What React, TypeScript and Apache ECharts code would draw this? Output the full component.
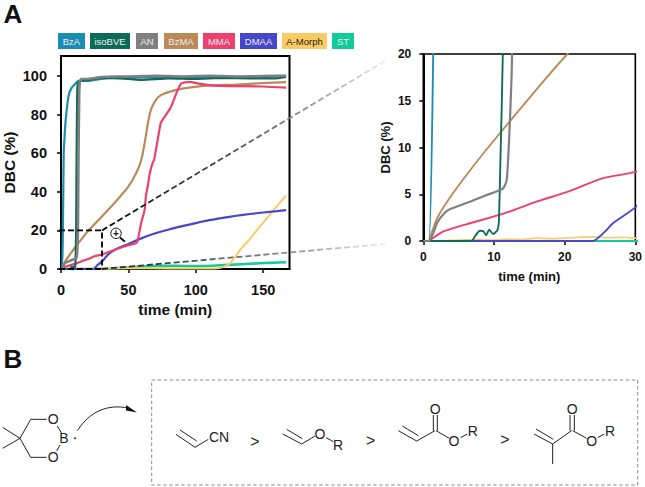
import React, { useEffect, useRef } from "react";
import * as echarts from "echarts";

const names = ["BzA", "isoBVE", "AN", "BzMA", "MMA", "DMAA", "A-Morph", "ST"];
const colors = ["#1a8db3", "#0e6b57", "#808080", "#bb8a56", "#ee3f6e", "#4647c9", "#fbcb63", "#10cc9b"];
const widths = [2.2, 2.2, 2.6, 2.2, 2.2, 2.2, 2, 2.6];
const xTicksMain = [0, 50, 100, 150];
const yTicksMain = [0, 20, 40, 60, 80, 100];
const xTicksZoom = [0, 10, 20, 30];
const yTicksZoom = [0, 5, 10, 15, 20];

const bzA = [[0, 0], [0.8, 0], [1.4, 20], [2, 60], [2.6, 68], [3.2, 75], [4, 81], [5, 87], [6, 91], [8, 94], [10, 95.5], [13, 97.5], [20, 97.5], [30, 98.5], [40, 99], [60, 99.3], [80, 99.3], [100, 99.2], [120, 99.6], [140, 99.5], [167, 99.8]];
const isoBVE = [[0, 0], [6.8, 0], [7.4, 0.6], [8, 1.1], [8.5, 1.05], [8.9, 0.6], [9.3, 1.2], [9.9, 0.75], [10.5, 1.2], [10.7, 2.2], [10.9, 8.3], [11.25, 20], [11.5, 50], [12, 90], [12.5, 96], [14, 97.5], [20, 98], [30, 99], [50, 98.5], [60, 98], [80, 98.8], [100, 98.5], [120, 99], [140, 98.8], [160, 98.8], [167, 99.5]];
const an = [[0, 0], [0.8, 0], [2, 2], [3, 3], [3.75, 3.4], [6.6, 4.2], [8.9, 4.9], [11.25, 5.6], [11.8, 6.5], [12.2, 11.9], [12.56, 20], [13, 60], [13.5, 90], [14, 97], [15, 98.5], [20, 98.5], [30, 99.5], [40, 99.8], [50, 99.8], [70, 100.2], [90, 99.8], [110, 100.2], [130, 99.8], [150, 100], [167, 100.2]];
const bzMA = [[0.8, 0], [2, 2.5], [4.2, 5.1], [8, 8.9], [11.25, 11.9], [16, 16.2], [20.4, 20], [30, 27], [40, 34.5], [49.8, 42.6], [56, 50], [59.5, 56.5], [62, 65], [64.5, 75.6], [66.5, 82], [69, 86], [72, 89], [76.7, 91], [86.5, 93], [95, 94], [108, 95], [130, 95.6], [150, 96.4], [167, 96.9]];
const mma = [[0.8, 0], [2.8, 1], [6.6, 1.9], [11.25, 2.9], [16, 4.2], [20.6, 5.3], [25.3, 6.7], [30, 7.4], [40, 10], [50, 12.3], [55.9, 13.5], [57, 15], [59.5, 24], [62, 30.5], [63, 38], [64.5, 43.5], [66, 50], [68, 55], [69, 56.5], [71, 64], [74, 75.6], [77, 79], [81.6, 84], [85, 90], [89, 96], [95, 97], [103, 96], [113, 95], [130, 94.8], [150, 94.6], [167, 94]];
const dmaa = [[1, 0], [23.9, 0], [27, 2], [30, 3.6], [35, 7.5], [40, 10], [50, 13], [60, 16], [70, 18.5], [80, 20.5], [90, 22.2], [100, 23.8], [110, 25.3], [120, 26.5], [130, 27.6], [140, 28.5], [150, 29.3], [160, 30], [167, 30.5]];
const aMorph = [[1, 0], [5, 0.1], [8, 0.15], [10, 0.1], [12, 0.2], [14, 0.15], [16, 0.3], [18, 0.25], [20, 0.3], [22, 0.4], [24, 0.45], [26, 0.35], [28, 0.4], [30, 0.3], [50, 0.4], [80, 0.3], [110, 0.3], [116, 0.4], [120, 1], [125.7, 3], [133, 10], [140, 15.5], [150, 24], [160, 32.5], [167, 38]];
const st = [[1, 0], [30, 0], [40, 0.4], [50, 0.8], [70, 1.6], [85, 1.6], [100, 1.5], [120, 2], [140, 2.7], [155, 3.2], [167, 3.5]];
const seriesData = [bzA, isoBVE, an, bzMA, mma, dmaa, aMorph, st];
const drawOrder = [7, 6, 5, 3, 4, 0, 1, 2];

const legendBoxes = [[58, 85], [90, 130], [136, 158], [164, 198], [203, 235], [240, 277], [282, 327], [332, 354]];

// zoom-crop coordinates of the two schemes (3x), converted below
const schemeLeft = [
  [[8, 262], [60, 295], [8, 325]],
  [[60, 295], [92, 238], [140, 238]],
  [[172, 258], [185, 280]],
  [[180, 315], [170, 333]],
  [[140, 352], [92, 352], [60, 295]],
  [[528, 283], [585, 322], [625, 298]],
  [[540, 270], [590, 303]],
  [[848, 282], [905, 312], [945, 288]],
  [[860, 268], [907, 296]],
  [[978, 293], [1000, 305]],
];
const schemeRight = [
  [[205, 182], [260, 213], [315, 182]],
  [[217, 168], [265, 197]],
  [[310, 182], [310, 135]],
  [[322, 182], [322, 135]],
  [[318, 182], [358, 205]],
  [[392, 203], [412, 192]],
  [[612, 192], [668, 222], [725, 182]],
  [[618, 177], [670, 208]],
  [[668, 222], [668, 282]],
  [[720, 182], [720, 135]],
  [[733, 182], [733, 135]],
  [[728, 182], [770, 205]],
  [[803, 203], [823, 192]],
];
const schemeLabels: [string, number, number, number][] = [
  ["O", 53.3, 419.3, 14], ["B", 64, 437.7, 14], ["O", 53.3, 456.7, 14],
  ["CN", 219, 436.7, 14], [">", 255, 441, 16], ["O", 320, 434, 14], ["R", 338, 444.5, 14],
  [">", 370.7, 440, 16], ["O", 435.3, 409, 14], ["O", 454, 441, 14], ["R", 472.7, 430.7, 14],
  [">", 505, 439, 16], ["O", 572.3, 409, 14], ["O", 591.7, 441, 14], ["R", 610, 430.7, 14],
];

const FONT = '"Liberation Sans", Arial, sans-serif';

function axis(gridIndex: number, min: number, max: number, ticks: number[], name: string, size: number, nameSize: number, gap: number, margin: number) {
  return {
    type: "value", gridIndex, min, max, name,
    nameLocation: "middle", nameGap: gap,
    nameTextStyle: { fontFamily: FONT, fontWeight: "bold", fontSize: nameSize, color: "#111" },
    splitLine: { show: false },
    axisLine: { show: true, onZero: false, lineStyle: { color: "#000", width: 2 } },
    axisTick: { show: true, length: 4, customValues: ticks, lineStyle: { color: "#000", width: 1.5 } },
    axisLabel: { show: true, customValues: ticks, margin, fontFamily: FONT, fontWeight: "bold", fontSize: size, color: "#111", hideOverlap: false },
  };
}

export default function App() {
  const ref = useRef<HTMLDivElement>(null);
  useEffect(() => {
    const chart = echarts.init(ref.current!, undefined, { renderer: "svg" });
    const series: any[] = [];
    [0, 1].forEach((g) => {
      drawOrder.forEach((i) => {
        series.push({
          type: "line", name: names[i], xAxisIndex: g, yAxisIndex: g, data: seriesData[i],
          showSymbol: false, symbol: "none", smooth: 0.2, clip: true,
          lineStyle: { color: colors[i], width: widths[i] * (g === 0 ? 1 : 0.85) },
          itemStyle: { color: colors[i] }, z: 3,
        });
      });
    });

    const graphic: any[] = [];
    const txt = (text: string, x: number, y: number, fontSize: number, fill: string, fontWeight = "normal") => ({
      type: "text", x, y, z: 12,
      style: { text, fontSize, fill, fontWeight, fontFamily: FONT, align: "center", verticalAlign: "middle" },
    });
    const seg = (points: number[][], stroke: string, lineWidth = 1) => ({
      type: "polyline", z: 10, shape: { points }, style: { stroke, lineWidth, fill: "none" },
    });

    graphic.push(txt("A", 13, 14, 26, "#111", "bold"));
    graphic.push(txt("B", 13, 359, 26, "#111", "bold"));

    names.forEach((n, i) => {
      const [a, b] = legendBoxes[i];
      graphic.push({ type: "rect", z: 10, shape: { x: a, y: 33, width: b - a, height: 16 }, style: { fill: colors[i] } });
      graphic.push(txt(n, (a + b) / 2, 41, 9.5, n === "A-Morph" ? "#222" : "#e8eef2"));
    });

    // zoom guide
    const dash = { lineDash: [6, 3], lineWidth: 1.8 };
    graphic.push({ type: "polyline", z: 9, shape: { points: [[59, 230.4], [102, 230.4], [102, 269]] }, style: { stroke: "#000", fill: "none", ...dash } });
    graphic.push({ type: "line", z: 9, shape: { x1: 59, y1: 269, x2: 102, y2: 269 }, style: { stroke: "#000", ...dash } });
    graphic.push({
      type: "line", z: 9, shape: { x1: 102, y1: 230.4, x2: 385, y2: 61 },
      style: {
        ...dash,
        stroke: new echarts.graphic.LinearGradient(0, 0, 1, 0, [
          { offset: 0, color: "#000" }, { offset: 0.65, color: "#777" }, { offset: 1, color: "#f0ecec" },
        ]),
      },
    });
    graphic.push({
      type: "line", z: 9, shape: { x1: 102, y1: 269, x2: 385, y2: 244 },
      style: {
        ...dash,
        stroke: new echarts.graphic.LinearGradient(0, 0, 1, 0, [
          { offset: 0, color: "#1a1a2a" }, { offset: 0.65, color: "#8a8a92" }, { offset: 1, color: "#eeeeee" },
        ]),
      },
    });
    // magnifier
    graphic.push({ type: "circle", z: 11, shape: { cx: 116, cy: 233.3, r: 5.2 }, style: { fill: "#fff", stroke: "#111", lineWidth: 1 } });
    graphic.push(seg([[120, 237.5], [125, 241.7]], "#111", 2));
    graphic.push(txt("+", 116, 233, 10, "#111", "bold"));

    // scheme
    graphic.push({ type: "rect", z: 10, shape: { x: 151.7, y: 380, width: 486, height: 105 }, style: { fill: "none", stroke: "#8c8c8c", lineWidth: 1, lineDash: [3.5, 2.5] } });
    schemeLeft.forEach((p) => graphic.push(seg(p.map(([x, y]) => [x / 3, 340 + y / 3]), "#222")));
    schemeRight.forEach((p) => graphic.push(seg(p.map(([x, y]) => [330 + x / 3, 370 + y / 3]), "#222")));
    schemeLabels.forEach(([t, x, y, s]) => graphic.push(txt(t, x, y, s, "#222")));
    graphic.push({ type: "circle", z: 10, shape: { cx: 75, cy: 438.3, r: 0.9 }, style: { fill: "#111" } });
    graphic.push({
      type: "bezierCurve", z: 10,
      shape: { x1: 77.5, y1: 430.5, cpx1: 90, cpy1: 411, cpx2: 108, cpy2: 404, x2: 128, y2: 408 },
      style: { stroke: "#222", lineWidth: 1, fill: "none" },
    });
    graphic.push({ type: "polygon", z: 10, shape: { points: [[126, 405], [137, 412.5], [126, 410.5]] }, style: { fill: "#111" } });

    chart.setOption({
      animation: false,
      backgroundColor: "#fff",
      grid: [
        { left: 59, top: 56, width: 230.5, height: 213, show: true, borderColor: "#000", borderWidth: 2, backgroundColor: "transparent" },
        { left: 423.3, top: 54, width: 213.4, height: 187, show: true, borderColor: "#000", borderWidth: 1.6, backgroundColor: "transparent" },
      ],
      xAxis: [
        axis(0, 0, 169.5, xTicksMain, "time (min)", 14.5, 15.5, 32, 13),
        axis(1, 0, 30, xTicksZoom, "time (min)", 12, 13, 29, 10),
      ],
      yAxis: [
        axis(0, 0, 110.4, yTicksMain, "DBC (%)", 14.5, 15.5, 44, 14),
        axis(1, 0, 20, yTicksZoom, "DBC (%)", 12, 13, 31, 12),
      ],
      series,
      graphic,
    });
    return () => chart.dispose();
  }, []);
  return <div ref={ref} style={{ position: "absolute", left: 0, top: 0, width: 645, height: 487 }} />;
}
